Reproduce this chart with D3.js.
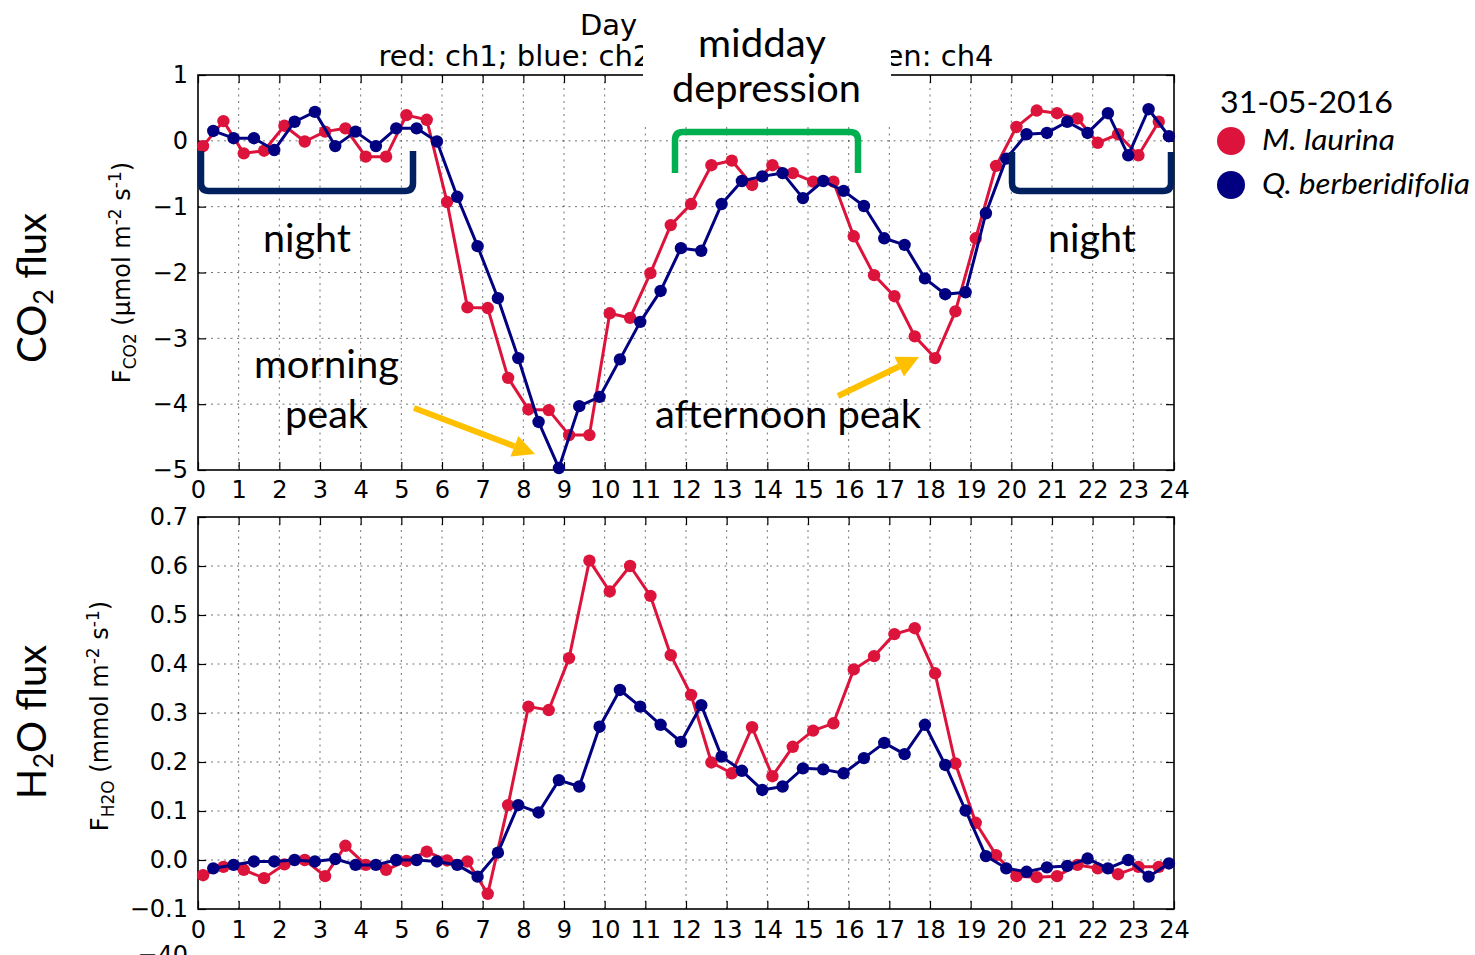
<!DOCTYPE html>
<html>
<head>
<meta charset="utf-8">
<script src="https://cdn.jsdelivr.net/npm/d3@7"></script>
<style>
  html, body { margin: 0; padding: 0; background: #fff; }
  svg { display: block; }
</style>
</head>
<body>
<script>
// ---- Sampling times (hour of day) for each chamber ----
const timesCh1 = [0.125, 0.625, 1.125, 1.625, 2.125, 2.625, 3.125, 3.625, 4.125, 4.625, 5.125, 5.625,
  6.125, 6.625, 7.125, 7.625, 8.125, 8.625, 9.125, 9.625, 10.125, 10.625, 11.125, 11.625,
  12.125, 12.625, 13.125, 13.625, 14.125, 14.625, 15.125, 15.625, 16.125, 16.625, 17.125, 17.625,
  18.125, 18.625, 19.125, 19.625, 20.125, 20.625, 21.125, 21.625, 22.125, 22.625, 23.125, 23.625];
const timesCh2 = [0.375, 0.875, 1.375, 1.875, 2.375, 2.875, 3.375, 3.875, 4.375, 4.875, 5.375, 5.875,
  6.375, 6.875, 7.375, 7.875, 8.375, 8.875, 9.375, 9.875, 10.375, 10.875, 11.375, 11.875,
  12.375, 12.875, 13.375, 13.875, 14.375, 14.875, 15.375, 15.875, 16.375, 16.875, 17.375, 17.875,
  18.375, 18.875, 19.375, 19.875, 20.375, 20.875, 21.375, 21.875, 22.375, 22.875, 23.375, 23.875];

// ---- CO2 flux (µmol m-2 s-1) ----
const co2Ch1 = [-0.08, 0.30, -0.19, -0.15, 0.23, -0.01, 0.14, 0.19, -0.24, -0.24, 0.39, 0.32,
  -0.93, -2.53, -2.54, -3.60, -4.08, -4.09, -4.47, -4.47, -2.62, -2.69, -2.01, -1.28,
  -0.96, -0.37, -0.30, -0.67, -0.37, -0.49, -0.62, -0.62, -1.45, -2.04, -2.36, -2.97,
  -3.30, -2.59, -1.48, -0.38, 0.21, 0.46, 0.42, 0.34, -0.03, 0.10, -0.22, 0.29];
const co2Ch2 = [0.15, 0.04, 0.04, -0.14, 0.29, 0.44, -0.08, 0.14, -0.08, 0.19, 0.19, -0.01,
  -0.85, -1.60, -2.39, -3.30, -4.27, -4.97, -4.03, -3.89, -3.32, -2.75, -2.28, -1.63,
  -1.67, -0.96, -0.61, -0.54, -0.49, -0.87, -0.61, -0.76, -0.99, -1.48, -1.58, -2.09,
  -2.33, -2.30, -1.10, -0.27, 0.10, 0.12, 0.29, 0.12, 0.42, -0.22, 0.48, 0.07];

// ---- H2O flux (mmol m-2 s-1) ----
const h2oCh1 = [-0.031, -0.014, -0.020, -0.037, -0.009, 0.000, -0.033, 0.029, -0.010, -0.020, -0.002, 0.017,
  -0.001, -0.003, -0.069, 0.112, 0.313, 0.306, 0.412, 0.611, 0.548, 0.600, 0.539, 0.418,
  0.337, 0.199, 0.177, 0.271, 0.171, 0.231, 0.264, 0.279, 0.389, 0.416, 0.461, 0.473,
  0.381, 0.197, 0.076, 0.010, -0.033, -0.035, -0.033, -0.010, -0.017, -0.029, -0.014, -0.014];
const h2oCh2 = [-0.017, -0.010, -0.003, -0.003, 0.000, -0.003, 0.002, -0.010, -0.010, 0.000, 0.000, -0.003,
  -0.010, -0.034, 0.015, 0.112, 0.097, 0.163, 0.150, 0.272, 0.347, 0.313, 0.276, 0.241,
  0.316, 0.211, 0.182, 0.143, 0.150, 0.187, 0.185, 0.177, 0.208, 0.239, 0.216, 0.276,
  0.194, 0.101, 0.008, -0.017, -0.024, -0.015, -0.012, 0.003, -0.017, 0.000, -0.034, -0.007];

// ---- Tick values ----
const hourTicks = [0, 1, 2, 3, 4, 5, 6, 7, 8, 9, 10, 11, 12, 13, 14, 15, 16, 17, 18, 19, 20, 21, 22, 23, 24];
const co2Ticks = [1, 0, -1, -2, -3, -4, -5];
const h2oTicks = [0.7, 0.6, 0.5, 0.4, 0.3, 0.2, 0.1, 0.0, -0.1];

// ---- Legend ----
const legendDate = "31-05-2016";
const speciesNames = ["M. laurina", "Q. berberidifolia"];

const RED = "#dc143c", BLUE = "#000080";
const NAVY_BRACKET = "#002060", GREEN = "#00b050", GOLD = "#ffc000";
const TICK_FONT = "DejaVu Sans, Bitstream Vera Sans, sans-serif";
const NOTE_FONT = "Lato, 'Open Sans', sans-serif";

const W = 1475, H = 955;
const svg = d3.select("body").append("svg").attr("width", W).attr("height", H);
svg.append("rect").attr("width", W).attr("height", H).attr("fill", "#fff");

const x = d3.scaleLinear().domain([0, 24]).range([198, 1174]);

function panel(opts) {
  const { y, yTicks, fmt, seriesA, seriesB, labelPad, xPad, labelX, sub, unit } = opts;
  const g = svg.append("g");
  const [y0, y1] = y.range();        // bottom, top
  const x0 = x.range()[0], x1 = x.range()[1];

  // dotted grid
  const grid = g.append("g").attr("stroke", "#000").attr("stroke-opacity", 0.55)
    .attr("stroke-width", 1).attr("stroke-dasharray", "2,4.5");
  grid.selectAll("line.v").data(hourTicks.slice(1, -1)).join("line")
    .attr("x1", d => x(d)).attr("x2", d => x(d)).attr("y1", y1).attr("y2", y0);
  grid.selectAll("line.h").data(yTicks.slice(1, -1)).join("line")
    .attr("y1", d => y(d)).attr("y2", d => y(d)).attr("x1", x0).attr("x2", x1);

  // axes with inward ticks on all four sides
  const bottom = g.append("g").attr("transform", `translate(0,${y0})`)
    .call(d3.axisBottom(x).tickValues(hourTicks).tickSizeInner(-8).tickSizeOuter(0).tickPadding(xPad));
  g.append("g").attr("transform", `translate(0,${y1})`)
    .call(d3.axisTop(x).tickValues(hourTicks).tickSizeInner(-8).tickSizeOuter(0).tickFormat(""));
  const left = g.append("g").attr("transform", `translate(${x0},0)`)
    .call(d3.axisLeft(y).tickValues(yTicks).tickSizeInner(-8).tickSizeOuter(0).tickPadding(10).tickFormat(fmt));
  g.append("g").attr("transform", `translate(${x1},0)`)
    .call(d3.axisRight(y).tickValues(yTicks).tickSizeInner(-8).tickSizeOuter(0).tickFormat(""));
  g.selectAll(".domain").remove();
  g.selectAll(".tick line").attr("stroke", "#000").attr("stroke-width", 1.2);
  g.selectAll(".tick text").attr("font-family", TICK_FONT).attr("font-size", 24).attr("fill", "#000");

  // frame
  g.append("rect").attr("x", x0).attr("y", y1).attr("width", x1 - x0).attr("height", y0 - y1)
    .attr("fill", "none").attr("stroke", "#000").attr("stroke-width", 1.6);

  // y-axis label
  const lbl = g.append("text")
    .attr("transform", `translate(${labelX},${(y0 + y1) / 2 + labelPad}) rotate(-90)`)
    .attr("text-anchor", "middle").attr("font-family", TICK_FONT).attr("font-size", 24).attr("fill", "#000");
  lbl.append("tspan").text("F");
  lbl.append("tspan").attr("font-size", 17).attr("dy", 6).text(sub);
  lbl.append("tspan").attr("dy", -6).text(` (${unit} m`);
  lbl.append("tspan").attr("font-size", 17).attr("dy", -9).text("-2");
  lbl.append("tspan").attr("dy", 9).text(" s");
  lbl.append("tspan").attr("font-size", 17).attr("dy", -9).text("-1");
  lbl.append("tspan").attr("dy", 9).text(")");

  // series: ch1 (red) then ch2 (blue)
  [[timesCh1, seriesA, RED], [timesCh2, seriesB, BLUE]].forEach(([ts, vs, c]) => {
    const pts = ts.map((t, i) => [t, vs[i]]);
    g.append("path").datum(pts)
      .attr("d", d3.line().x(d => x(d[0])).y(d => y(d[1])))
      .attr("fill", "none").attr("stroke", c).attr("stroke-width", 3).attr("stroke-linejoin", "round");
    g.append("g").selectAll("circle").data(pts).join("circle")
      .attr("cx", d => x(d[0])).attr("cy", d => y(d[1])).attr("r", 6.2).attr("fill", c);
  });
  return g;
}

const yCO2 = d3.scaleLinear().domain([-5, 1]).range([470, 75]);
const yH2O = d3.scaleLinear().domain([-0.1, 0.7]).range([909, 517]);

panel({ y: yCO2, yTicks: co2Ticks, fmt: d3.format("d"), seriesA: co2Ch1, seriesB: co2Ch2,
  xPad: 11, labelX: 130, labelPad: 0, sub: "CO2", unit: "\u00b5mol" });
panel({ y: yH2O, yTicks: h2oTicks, fmt: d3.format(".1f"), seriesA: h2oCh1, seriesB: h2oCh2,
  xPad: 12, labelX: 108, labelPad: 3, sub: "H2O", unit: "mmol" });

// tick label of the panel below, cut by the page edge
svg.append("text").attr("x", 188).attr("y", 963).attr("text-anchor", "end")
  .attr("font-family", TICK_FONT).attr("font-size", 24).text("\u221240");

// title lines
svg.append("text").attr("x", 580).attr("y", 35).attr("font-family", TICK_FONT).attr("font-size", 29).text("Day");
svg.append("text").attr("x", 686).attr("y", 66).attr("text-anchor", "middle")
  .attr("font-family", TICK_FONT).attr("font-size", 29).text("red: ch1; blue: ch2; black: ch3; green: ch4");

// white label box over the title
svg.append("rect").attr("x", 643).attr("y", 0).attr("width", 248).attr("height", 123).attr("fill", "#fff");

// brackets
function bracketU(xl, xr, yt, yb, color) {
  const r = 8;
  svg.append("path")
    .attr("d", `M${xl},${yt} L${xl},${yb - r} Q${xl},${yb} ${xl + r},${yb} L${xr - r},${yb} Q${xr},${yb} ${xr},${yb - r} L${xr},${yt}`)
    .attr("fill", "none").attr("stroke", color).attr("stroke-width", 6.5);
}
function bracketN(xl, xr, yt, yb, color) {
  const r = 8;
  svg.append("path")
    .attr("d", `M${xl},${yb} L${xl},${yt + r} Q${xl},${yt} ${xl + r},${yt} L${xr - r},${yt} Q${xr},${yt} ${xr},${yt + r} L${xr},${yb}`)
    .attr("fill", "none").attr("stroke", color).attr("stroke-width", 6.5);
}
bracketU(201, 413, 151, 191, NAVY_BRACKET);
bracketU(1012, 1171, 152, 191, NAVY_BRACKET);
bracketN(675, 858, 132, 173, GREEN);

// arrows
function arrow(x1, y1, x2, y2) {
  const ang = Math.atan2(y2 - y1, x2 - x1);
  const len = 22, half = 11;
  const bx = x2 - len * Math.cos(ang), by = y2 - len * Math.sin(ang);
  svg.append("line").attr("x1", x1).attr("y1", y1).attr("x2", bx).attr("y2", by)
    .attr("stroke", GOLD).attr("stroke-width", 6);
  const px = -Math.sin(ang), py = Math.cos(ang);
  svg.append("polygon")
    .attr("points", `${x2},${y2} ${bx + half * px},${by + half * py} ${bx - half * px},${by - half * py}`)
    .attr("fill", GOLD);
}
arrow(414, 408, 535, 454);
arrow(838, 396, 919, 357);

// annotations
function note(txt, xl, base, w, size) {
  svg.append("text").attr("x", xl).attr("y", base).attr("font-family", NOTE_FONT)
    .attr("font-size", size).attr("textLength", w).attr("lengthAdjust", "spacingAndGlyphs")
    .attr("fill", "#000").text(txt);
}
note("night", 263, 252, 88, 38);
note("night", 1048, 252, 88, 38);
note("morning", 254, 378, 145, 38);
note("peak", 285, 428, 83, 38);
note("afternoon peak", 655, 428, 266, 38);
note("midday", 698, 57, 128, 38);
note("depression", 672, 102, 189, 38);

// panel titles
function flux(txt1, txt2, cy, w) {
  const t = svg.append("text").attr("transform", `translate(46,${cy}) rotate(-90)`)
    .attr("text-anchor", "middle").attr("font-family", NOTE_FONT).attr("font-size", 40).attr("fill", "#000");
  t.append("tspan").text(txt1[0]);
  t.append("tspan").attr("font-size", 27).attr("dy", 7).text(txt1[1]);
  t.append("tspan").attr("dy", -7).text(txt2);
}
flux(["CO", "2"], " flux", 288, 0);
flux(["H", "2"], "O flux", 722, 0);

// legend
svg.append("text").attr("x", 1220).attr("y", 113).attr("font-family", NOTE_FONT).attr("font-size", 30)
  .attr("textLength", 173).attr("lengthAdjust", "spacingAndGlyphs").text(legendDate);
[[RED, 141, 150, 133], [BLUE, 185, 194, 208]].forEach(([c, cy, base, w], i) => {
  svg.append("circle").attr("cx", 1231).attr("cy", cy).attr("r", 14).attr("fill", c);
  svg.append("text").attr("x", 1262).attr("y", base).attr("font-family", NOTE_FONT)
    .attr("font-style", "italic").attr("font-size", 28)
    .attr("textLength", w).attr("lengthAdjust", "spacingAndGlyphs").text(speciesNames[i]);
});
</script>
</body>
</html>
